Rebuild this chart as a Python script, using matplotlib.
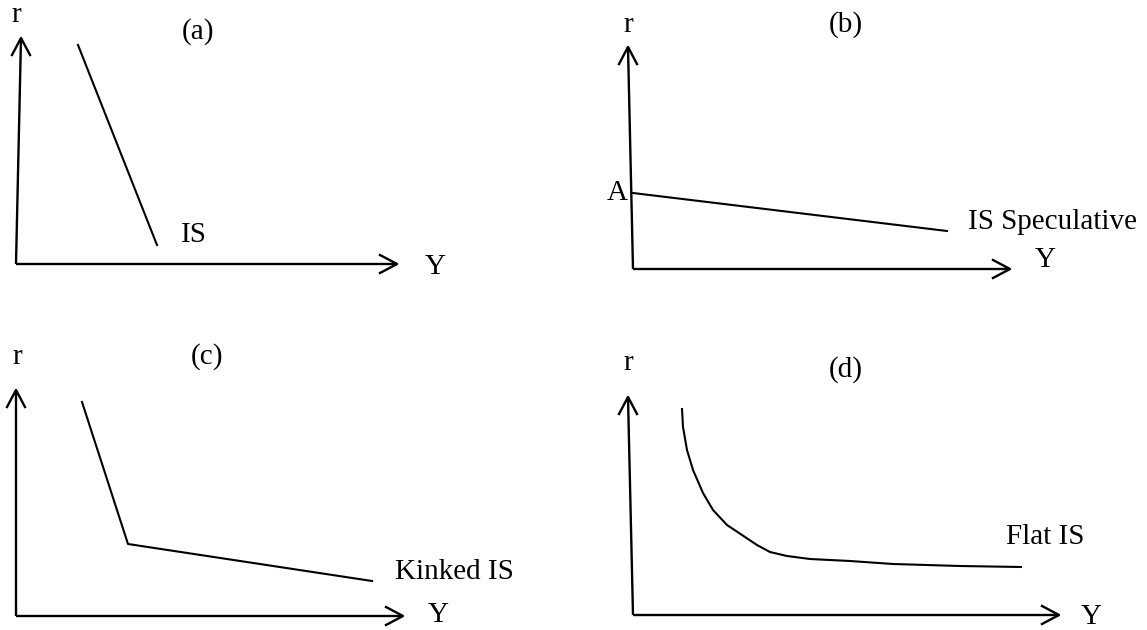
import matplotlib.pyplot as plt

plt.rcParams['font.family'] = ['Liberation Serif', 'DejaVu Serif']

W, H = 1147, 630

# curve points, in px from each panel's origin (Y to the right, r upward)
a_Y = [62, 141]
a_r = [219, 19]

b_Y = [0, 314]
b_r = [76, 38]

c_Y = [66, 112, 356]
c_r = [214, 72, 35]

d_Y = [49, 50, 54, 60, 70, 80, 94, 109, 124, 137, 154, 177, 217, 260, 327, 388]
d_r = [206, 188, 165, 145, 122, 105, 90, 80, 70, 63, 59, 56, 54, 51, 49, 48]

# panel layout: quadrant (x0, y0, w, h), origin pixel, r-axis top, Y-axis tip
panels = {
    'a': dict(quad=(0, 0, 573, 315), origin=(16, 264), rtop=(5, 226), ytip=381),
    'b': dict(quad=(573, 0, 574, 315), origin=(633, 269), rtop=(-5, 222), ytip=377),
    'c': dict(quad=(0, 315, 573, 315), origin=(16, 616), rtop=(0, 226), ytip=387),
    'd': dict(quad=(573, 315, 574, 315), origin=(633, 615), rtop=(-5, 218), ytip=426),
}

fig = plt.figure(figsize=(W / 100, H / 100), dpi=100)
fig.patch.set_facecolor('white')

FS = 21
LW_AX = 1.7
LW = 1.5


def make_panel(p):
    x0, y0, w, h = p['quad']
    ox, oy = p['origin']
    ax = fig.add_axes([x0 / W, 1 - (y0 + h) / H, w / W, h / H])
    ax.set_xlim(x0 - ox, x0 + w - ox)
    ax.set_ylim(oy - (y0 + h), oy - y0)
    ax.axis('off')
    # axes with open arrow heads
    rx, ry = p['rtop']
    ax.plot([0, rx], [0, ry], color='black', lw=LW_AX, solid_capstyle='butt')
    ax.plot([rx - 9, rx, rx + 9], [ry - 17, ry, ry - 17], color='black', lw=LW_AX)
    t = p['ytip']
    ax.plot([0, t], [0, 0], color='black', lw=LW_AX, solid_capstyle='butt')
    ax.plot([t - 17, t, t - 17], [9, 0, -9], color='black', lw=LW_AX)
    return ax


ax = make_panel(panels['a'])
ax.plot(a_Y, a_r, color='black', lw=LW)
ax.text(0, 249, 'r', fontsize=FS, ha='center', va='center')
ax.text(182, 232, '(a)', fontsize=FS, ha='center', va='center')
ax.text(178, 29, 'IS', fontsize=FS, ha='center', va='center')
ax.text(419, -3, 'Y', fontsize=FS, ha='center', va='center')

ax = make_panel(panels['b'])
ax.plot(b_Y, b_r, color='black', lw=LW)
ax.text(-5, 244, 'r', fontsize=FS, ha='center', va='center')
ax.text(213, 244, '(b)', fontsize=FS, ha='center', va='center')
ax.text(-16, 76, 'A', fontsize=FS, ha='center', va='center')
ax.text(335, 47, 'IS Speculative', fontsize=FS, ha='left', va='center')
ax.text(412, 9, 'Y', fontsize=FS, ha='center', va='center')

ax = make_panel(panels['c'])
ax.plot(c_Y, c_r, color='black', lw=LW)
ax.text(1, 259, 'r', fontsize=FS, ha='center', va='center')
ax.text(191, 259, '(c)', fontsize=FS, ha='center', va='center')
ax.text(379, 44, 'Kinked IS', fontsize=FS, ha='left', va='center')
ax.text(422, 1, 'Y', fontsize=FS, ha='center', va='center')

ax = make_panel(panels['d'])
ax.plot(d_Y, d_r, color='black', lw=LW)
ax.text(-5, 252, 'r', fontsize=FS, ha='center', va='center')
ax.text(213, 245, '(d)', fontsize=FS, ha='center', va='center')
ax.text(373, 78, 'Flat IS', fontsize=FS, ha='left', va='center')
ax.text(458, -2, 'Y', fontsize=FS, ha='center', va='center')

fig.savefig('out.png', dpi=100, facecolor='white')
